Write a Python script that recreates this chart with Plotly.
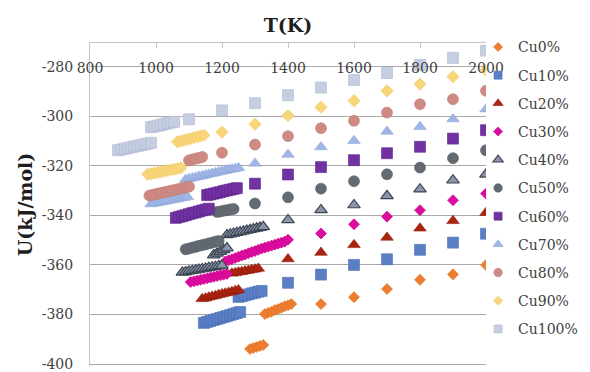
import plotly.graph_objects as go

# ---------------- data ----------------
series_names = ["Cu0%", "Cu10%", "Cu20%", "Cu30%", "Cu40%", "Cu50%",
                "Cu60%", "Cu70%", "Cu80%", "Cu90%", "Cu100%"]

t_cu0 = [1285, 1295, 1305, 1315, 1325,
         1330, 1340, 1350, 1360, 1370, 1380, 1390, 1400, 1410,
         1500, 1600, 1700, 1800, 1900, 2000]
u_cu0 = [-393.9, -393.5, -393.1, -392.7, -392.3,
         -379.8, -379.3, -378.9, -378.2, -377.8, -377.3, -376.7, -376.3, -375.8,
         -375.8, -373.0, -369.7, -366.0, -363.8, -360.0]

t_cu10 = [1145, 1155, 1165, 1175, 1185, 1195, 1205, 1215, 1225, 1235, 1245, 1255,
          1250, 1260, 1270, 1280, 1290, 1300, 1310, 1320,
          1400, 1500, 1600, 1700, 1800, 1900, 2000]
u_cu10 = [-383.4, -383.0, -382.6, -382.2, -381.8, -381.4, -381.0, -380.6, -380.2, -379.8, -379.4, -379.0,
          -372.9, -372.6, -372.2, -371.9, -371.5, -371.2, -370.8, -370.5,
          -367.2, -363.9, -360.0, -357.7, -353.9, -351.0, -347.4]

t_cu20 = [1140, 1150, 1160, 1170, 1180, 1190, 1200, 1210, 1220, 1230, 1240, 1250,
          1230, 1240, 1250, 1260, 1270, 1280, 1290, 1300, 1310,
          1400, 1500, 1600, 1700, 1800, 1900, 2000]
u_cu20 = [-373.7, -373.4, -373.0, -372.7, -372.4, -372.0, -371.7, -371.4, -371.1, -370.8, -370.4, -370.1,
          -363.4, -363.2, -362.9, -362.7, -362.4, -362.2, -361.9, -361.7, -361.4,
          -357.6, -355.0, -351.9, -348.9, -345.2, -342.2, -338.9]

t_cu30 = [1105, 1115, 1125, 1135, 1145, 1155, 1165, 1175, 1185, 1195, 1205, 1215,
          1210, 1220, 1230, 1240, 1250, 1260, 1270, 1280, 1290, 1300, 1310, 1320,
          1330, 1340, 1350, 1360, 1370, 1380, 1390,
          1400, 1500, 1600, 1700, 1800, 1900, 2000]
u_cu30 = [-366.9, -366.6, -366.3, -366.0, -365.7, -365.4, -365.1, -364.8, -364.5, -364.2, -363.9, -363.6,
          -358.6, -358.1, -357.7, -357.2, -356.7, -356.2, -355.8, -355.3, -354.8, -354.4, -353.9, -353.4,
          -353.0, -352.6, -352.2, -351.8, -351.4, -351.0, -350.6,
          -349.8, -347.3, -343.6, -340.5, -337.9, -333.9, -331.2]

t_cu40 = [1080, 1090, 1100, 1110, 1120, 1130, 1140, 1150, 1160, 1170, 1180, 1190, 1200,
          1175, 1185, 1195, 1205, 1215,
          1215, 1225, 1235, 1245, 1255, 1265, 1275, 1285, 1295, 1305, 1315, 1325,
          1400, 1500, 1600, 1700, 1800, 1900, 2000]
u_cu40 = [-363.0, -362.8, -362.5, -362.3, -362.1, -361.8, -361.6, -361.4, -361.1, -360.9, -360.7, -360.4, -360.2,
          -356.0, -355.3, -354.6, -353.9, -353.2,
          -347.9, -347.6, -347.3, -347.0, -346.7, -346.4, -346.1, -345.8, -345.5, -345.2, -344.9, -344.6,
          -341.8, -337.8, -335.8, -332.1, -329.4, -325.8, -323.4]

t_cu50 = [1090, 1100, 1110, 1120, 1130, 1140, 1150, 1160, 1170, 1180, 1190,
          1185, 1195, 1205, 1215, 1225, 1235,
          1300, 1400, 1500, 1600, 1700, 1800, 1900, 2000]
u_cu50 = [-353.7, -353.4, -353.0, -352.7, -352.3, -352.0, -351.7, -351.3, -351.0, -350.6, -350.3,
          -338.6, -338.4, -338.1, -337.9, -337.6, -337.4,
          -335.2, -332.7, -329.2, -326.2, -323.4, -320.7, -316.9, -313.7]

t_cu60 = [1060, 1070, 1080, 1090, 1100, 1110, 1120, 1130, 1140, 1150, 1160,
          1155, 1165, 1175, 1185, 1195, 1205, 1215, 1225, 1235, 1245,
          1300, 1400, 1500, 1600, 1700, 1800, 1900, 2000]
u_cu60 = [-341.0, -340.6, -340.3, -339.9, -339.5, -339.1, -338.8, -338.4, -338.0, -337.7, -337.3,
          -331.8, -331.5, -331.2, -330.9, -330.6, -330.2, -329.9, -329.6, -329.3, -329.0,
          -327.2, -323.5, -320.5, -317.7, -314.9, -312.3, -309.0, -305.6]

t_cu70 = [985, 995, 1005, 1015, 1025, 1035, 1045, 1055, 1065, 1075, 1085, 1095,
          1090, 1100, 1110, 1120, 1130, 1140, 1150, 1160, 1170, 1180, 1190, 1200,
          1210, 1220, 1230, 1240, 1250,
          1300, 1400, 1500, 1600, 1700, 1800, 1900, 2000]
u_cu70 = [-335.4, -335.1, -334.9, -334.6, -334.4, -334.1, -333.8, -333.6, -333.3, -333.0, -332.8, -332.5,
          -325.5, -325.2, -324.9, -324.6, -324.3, -324.0, -323.7, -323.4, -323.1, -322.8, -322.5, -322.2,
          -321.9, -321.6, -321.4, -321.1, -320.8,
          -319.0, -315.4, -312.4, -309.9, -306.1, -304.2, -301.1, -297.1]

t_cu80 = [980, 990, 1000, 1010, 1020, 1030, 1040, 1050, 1060, 1070, 1080, 1090, 1100,
          1100, 1110, 1120, 1130, 1140,
          1200, 1300, 1400, 1500, 1600, 1700, 1800, 1900, 2000]
u_cu80 = [-332.0, -331.7, -331.4, -331.1, -330.8, -330.5, -330.2, -329.9, -329.6, -329.3, -329.0, -328.7, -328.4,
          -317.8, -317.4, -317.1, -316.8, -316.4,
          -314.7, -311.4, -308.0, -304.8, -301.8, -298.5, -295.1, -293.1, -289.7]

t_cu90 = [975, 985, 995, 1005, 1015, 1025, 1035, 1045, 1055, 1065, 1075,
          1065, 1075, 1085, 1095, 1105, 1115, 1125, 1135, 1145,
          1200, 1300, 1400, 1500, 1600, 1700, 1800, 1900, 2000]
u_cu90 = [-323.4, -323.2, -322.9, -322.7, -322.4, -322.1, -321.9, -321.6, -321.4, -321.1, -320.8,
          -310.3, -310.0, -309.6, -309.3, -309.0, -308.6, -308.3, -307.9, -307.6,
          -306.4, -303.2, -299.7, -296.3, -293.7, -289.7, -287.0, -284.0, -281.3]

t_cu100 = [885, 895, 905, 915, 925, 935, 945, 955, 965, 975, 985,
           985, 995, 1005, 1015, 1025, 1035, 1045, 1055,
           1100, 1200, 1300, 1400, 1500, 1600, 1700, 1800, 1900, 2000]
u_cu100 = [-313.7, -313.4, -313.1, -312.8, -312.5, -312.2, -311.9, -311.6, -311.3, -311.0, -310.7,
           -304.4, -304.1, -303.8, -303.5, -303.1, -302.8, -302.5, -302.2,
           -301.2, -297.6, -294.7, -291.5, -288.4, -285.3, -282.5, -279.2, -276.4, -273.5]

series_t = [t_cu0, t_cu10, t_cu20, t_cu30, t_cu40, t_cu50,
            t_cu60, t_cu70, t_cu80, t_cu90, t_cu100]
series_u = [u_cu0, u_cu10, u_cu20, u_cu30, u_cu40, u_cu50,
            u_cu60, u_cu70, u_cu80, u_cu90, u_cu100]

x_ticks = [800, 1000, 1200, 1400, 1600, 1800, 2000]
x_tick_labels = ["800", "1000", "1200", "1400", "1600", "1800", "2000"]
y_ticks = [-400, -380, -360, -340, -320, -300, -280]
y_tick_labels = ["-400", "-380", "-360", "-340", "-320", "-300", "-280"]

# ---------------- styles ----------------
symbols = ["diamond", "square", "triangle-up", "diamond", "triangle-up", "circle",
           "square", "triangle-up", "circle", "diamond", "square"]
fills = ["#ED7D31", "#5B7FC5", "#AA2410", "#DC0D9E", "#8B94A8", "#646A72",
         "#7131A1", "#A0B6E6", "#CE8A83", "#F9D67A", "#C6CEE1"]
edges = ["#E2701F", "#4A6FB8", "#921C0C", "#C4008A", "#3D4554", "#585E65",
         "#5E2590", "#8EA7DC", "#BF7A73", "#F0C860", "#AEB9D3"]
edge_w = [0.6, 0.6, 0.6, 0.6, 1.2, 0.6, 0.6, 0.6, 0.6, 0.6, 0.6]
sizes = {"diamond": 8.5, "square": 11, "triangle-up": 11, "circle": 11}
leg_sizes = {"diamond": 7, "square": 8, "triangle-up": 9, "circle": 8.5}

FONT = "DejaVu Serif"
fig = go.Figure()

for i, name in enumerate(series_names):
    sym = symbols[i]
    sz = sizes[sym] + (1 if (name == "Cu90%") else 0)
    fig.add_trace(go.Scatter(
        x=series_t[i], y=series_u[i], mode="markers", name=name,
        showlegend=False, legendgroup=name,
        marker=dict(symbol=sym, size=sz, color=fills[i],
                    line=dict(color=edges[i], width=edge_w[i])),
    ))
for i, name in enumerate(series_names):
    sym = symbols[i]
    fig.add_trace(go.Scatter(
        x=[None], y=[None], mode="markers", name=name,
        showlegend=True, legendgroup=name,
        marker=dict(symbol=sym, size=leg_sizes[sym], color=fills[i],
                    line=dict(color=edges[i], width=edge_w[i])),
    ))

fig.update_layout(
    width=590, height=372,
    margin=dict(l=90, r=104, t=43, b=6, autoexpand=False),
    paper_bgcolor="white", plot_bgcolor="white",
    font=dict(family=FONT, size=14, color="#404040"),
    title=dict(text="T(K)", x=0.5, xref="paper", xanchor="center",
               y=1 - 25 / 372, yref="container", yanchor="middle",
               font=dict(family=FONT, size=19, color="#1E1E1E", weight="bold")),
    legend=dict(x=0.98, xanchor="left", xref="paper",
                y=0.55, yanchor="middle", yref="paper",
                font=dict(family=FONT, size=14, color="#404040"),
                tracegroupgap=7, itemsizing="trace",
                bgcolor="rgba(0,0,0,0)"),
)

fig.update_xaxes(
    range=[800, 2000], tickvals=x_ticks, ticktext=x_tick_labels, side="top",
    showline=True, linecolor="#C4C4C4", linewidth=1, mirror=False,
    ticks="inside", ticklen=5, tickcolor="#C4C4C4",
    ticklabelposition="inside", ticklabeloverflow="allow", ticklabelstandoff=15,
    showgrid=False, zeroline=False, automargin=False,
    tickfont=dict(family=FONT, size=14, color="#404040"),
)
fig.update_yaxes(
    range=[-400.8, -270.4], tickvals=y_ticks, ticktext=y_tick_labels,
    showline=True, linecolor="#C4C4C4", linewidth=1,
    ticks="", ticklabelstandoff=13,
    showgrid=True, gridcolor="#A8A8A8", gridwidth=1,
    zeroline=False, automargin=False,
    tickfont=dict(family=FONT, size=14, color="#404040"),
    title=dict(text="U(kJ/mol)", standoff=4,
               font=dict(family=FONT, size=19, color="#1E1E1E", weight="bold")),
)

fig.write_html("out.html", config={"displayModeBar": False},
               post_script="document.body.style.margin='0';")
